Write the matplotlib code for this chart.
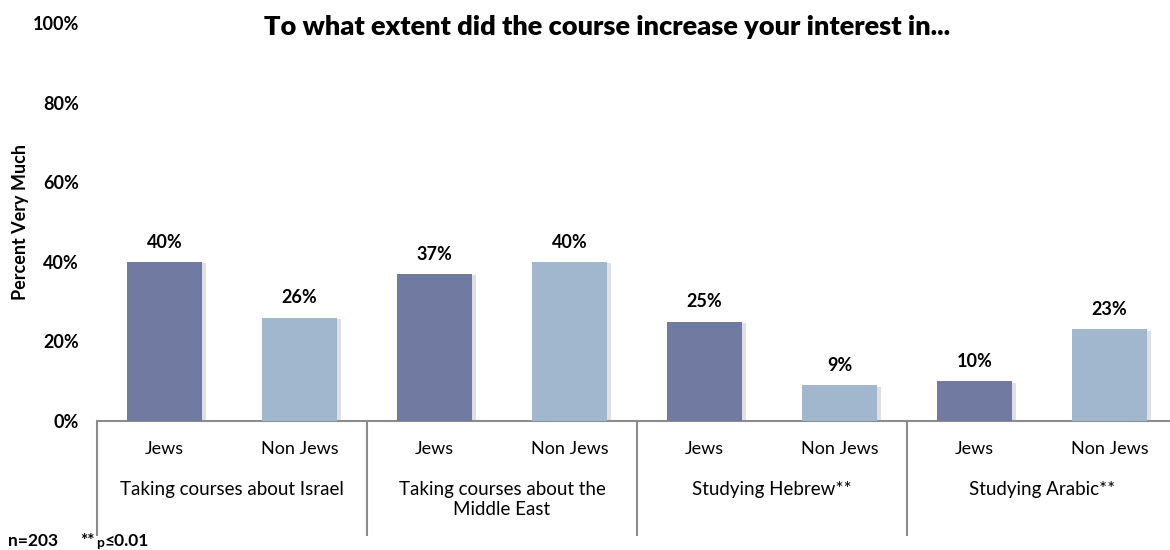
import matplotlib
matplotlib.use("Agg")
import matplotlib.pyplot as plt
import matplotlib.patheffects as pe
from matplotlib.transforms import blended_transform_factory

plt.rcParams['font.family'] = ['Lato', 'DejaVu Sans']

# data
groups = ["Taking courses about Israel", "Taking courses about the\nMiddle East",
          "Studying Hebrew**", "Studying Arabic**"]
subgroups = ["Jews", "Non Jews"]
jews = [40, 37, 25, 10]
non_jews = [26, 40, 9, 23]
yticks = [0, 20, 40, 60, 80, 100]

JEWS_C = "#717ba1"
NONJ_C = "#a1b7cd"
LINE_C = "#8c8c8c"

fig = plt.figure(figsize=(11.7, 5.5), dpi=100)
ax = fig.add_axes([97 / 1170, 129 / 550, 1080 / 1170, 398 / 550])

values, colors, labels = [], [], []
for j, n in zip(jews, non_jews):
    values += [j, n]
    colors += [JEWS_C, NONJ_C]
    labels += subgroups
xs = list(range(len(values)))

shadow = [pe.SimplePatchShadow(offset=(2.5, -1), shadow_rgbFace="#999999", alpha=0.3), pe.Normal()]
bars = ax.bar(xs, values, width=0.56, color=colors, edgecolor="none", zorder=3)
for b in bars:
    b.set_path_effects(shadow)

for x, v in zip(xs, values):
    ax.annotate(f"{v}%", (x, v), xytext=(0, 8), textcoords="offset points",
                ha="center", va="bottom", fontsize=13, fontweight="bold")

ax.set_xlim(-0.5, len(values) - 0.5)
ax.set_ylim(0, 100)
ax.set_yticks(yticks)
ax.set_yticklabels([f"{t}%" for t in yticks], fontsize=13, fontweight="bold")
ax.tick_params(axis="y", length=0, pad=13)
ax.set_xticks([])
for s in ["top", "right", "left"]:
    ax.spines[s].set_visible(False)
ax.spines["bottom"].set_color(LINE_C)
ax.spines["bottom"].set_linewidth(1.5)

# category labels under the axis
trans = blended_transform_factory(ax.transData, ax.transAxes)
for x, lab in zip(xs, labels):
    ax.text(x, -0.07, lab, transform=trans, ha="center", va="center", fontsize=13)
for i, g in enumerate(groups):
    ax.text(2 * i + 0.5, -0.15, g, transform=trans, ha="center", va="top",
            fontsize=13.5, linespacing=1.25)
for sep in [-0.5, 1.5, 3.5, 5.5]:
    ax.plot([sep, sep], [0, -0.286], transform=trans, color=LINE_C, lw=1.5,
            clip_on=False)

ax.set_ylabel("Percent Very Much", fontsize=13, fontweight="bold")
ax.yaxis.set_label_coords(-0.063, 0.5)

fig.text(607 / 1170, 1 - 27 / 550, "To what extent did the course increase your interest in...",
         ha="center", va="center", fontsize=19.5, fontweight="heavy")

# footnote: sample size and significance marker
base = 1 - 546 / 550
fig.text(8 / 1170, base, "n=203", ha="left", va="baseline", fontsize=12.5, fontweight="bold")
fig.text(80 / 1170, base, "**", ha="left", va="baseline", fontsize=12.5, fontweight="bold")
fig.text(96 / 1170, base - 1 / 550, "p", ha="left", va="baseline", fontsize=10, fontweight="bold")
fig.text(104 / 1170, base, "≤0.01", ha="left", va="baseline", fontsize=12.5, fontweight="bold")

fig.savefig("out.png", dpi=100)
